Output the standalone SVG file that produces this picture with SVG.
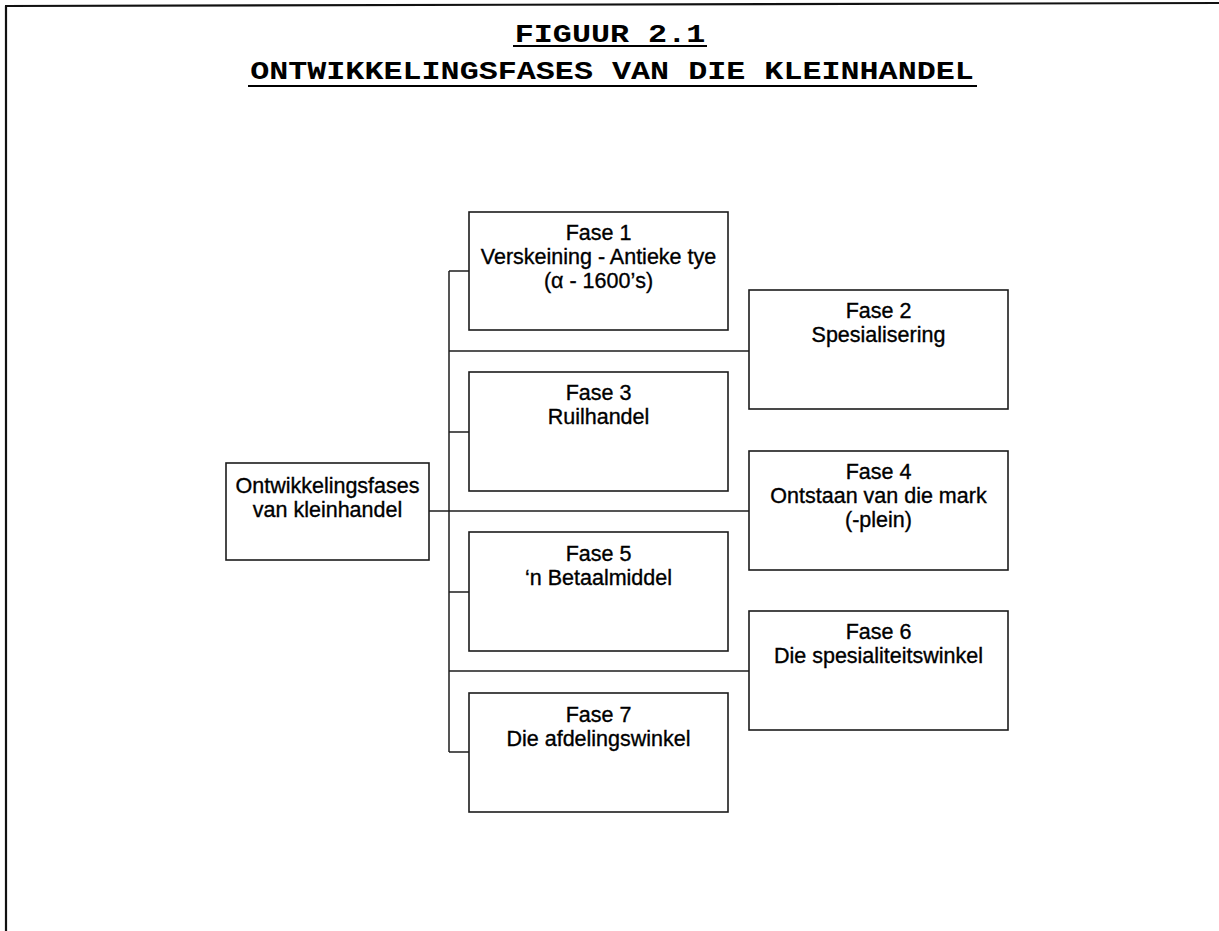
<svg xmlns="http://www.w3.org/2000/svg" width="1219" height="931" viewBox="0 0 1219 931">
  <style>
    .frame { stroke: #111; stroke-width: 2.2; fill: none; }
    .box { fill: #fff; stroke: #1c1c1c; stroke-width: 1.6; }
    .wire { stroke: #1c1c1c; stroke-width: 1.5; fill: none; }
    .title { font-family: "Liberation Mono", "Courier New", monospace; font-weight: bold; font-size: 25px; fill: #000; text-anchor: middle; }
    .rule { stroke: #000; stroke-width: 2; }
    .lbl { font-family: "Liberation Sans", Arial, sans-serif; font-size: 21.5px; fill: #000; stroke: #000; stroke-width: 0.35; text-anchor: middle; }
  </style>
  <rect width="1219" height="931" fill="#fff"/>

  <!-- page frame: left and top edges only -->
  <line class="frame" x1="6" y1="6" x2="6" y2="931"/>
  <line class="frame" x1="5" y1="6" x2="1219" y2="3"/>

  <!-- heading, typewriter face widened horizontally -->
  <g id="heading">
    <text class="title" transform="translate(610 42) scale(1.27 1)">FIGUUR 2.1</text>
    <line class="rule" x1="513" y1="46" x2="707" y2="46"/>
    <text class="title" transform="translate(612 79) scale(1.27 1)">ONTWIKKELINGSFASES VAN DIE KLEINHANDEL</text>
    <line class="rule" x1="248" y1="86" x2="977" y2="86"/>
  </g>

  <!-- connectors -->
  <g id="connectors">
    <line class="wire" x1="449" y1="271" x2="449" y2="752"/>
    <line class="wire" x1="449" y1="271" x2="469" y2="271"/>
    <line class="wire" x1="449" y1="432" x2="469" y2="432"/>
    <line class="wire" x1="449" y1="592" x2="469" y2="592"/>
    <line class="wire" x1="449" y1="752" x2="469" y2="752"/>
    <line class="wire" x1="449" y1="351" x2="749" y2="351"/>
    <line class="wire" x1="429" y1="511" x2="749" y2="511"/>
    <line class="wire" x1="449" y1="671" x2="749" y2="671"/>
  </g>

  <g id="root">
    <rect class="box" x="226" y="463" width="203" height="97"/>
    <text class="lbl" x="327.5" y="493">Ontwikkelingsfases</text>
    <text class="lbl" x="327.5" y="517">van kleinhandel</text>
  </g>

  <g id="fase1">
    <rect class="box" x="469" y="212" width="259" height="118"/>
    <text class="lbl" x="598.5" y="240">Fase 1</text>
    <text class="lbl" x="598.5" y="264">Verskeining - Antieke tye</text>
    <text class="lbl" x="598.5" y="288">(α - 1600’s)</text>
  </g>

  <g id="fase2">
    <rect class="box" x="749" y="290" width="259" height="119"/>
    <text class="lbl" x="878.5" y="318">Fase 2</text>
    <text class="lbl" x="878.5" y="342">Spesialisering</text>
  </g>

  <g id="fase3">
    <rect class="box" x="469" y="372" width="259" height="119"/>
    <text class="lbl" x="598.5" y="400">Fase 3</text>
    <text class="lbl" x="598.5" y="424">Ruilhandel</text>
  </g>

  <g id="fase4">
    <rect class="box" x="749" y="451" width="259" height="119"/>
    <text class="lbl" x="878.5" y="479">Fase 4</text>
    <text class="lbl" x="878.5" y="503">Ontstaan van die mark</text>
    <text class="lbl" x="878.5" y="527">(-plein)</text>
  </g>

  <g id="fase5">
    <rect class="box" x="469" y="532" width="259" height="119"/>
    <text class="lbl" x="598.5" y="561">Fase 5</text>
    <text class="lbl" x="598.5" y="585">‘n Betaalmiddel</text>
  </g>

  <g id="fase6">
    <rect class="box" x="749" y="611" width="259" height="119"/>
    <text class="lbl" x="878.5" y="639">Fase 6</text>
    <text class="lbl" x="878.5" y="663">Die spesialiteitswinkel</text>
  </g>

  <g id="fase7">
    <rect class="box" x="469" y="693" width="259" height="119"/>
    <text class="lbl" x="598.5" y="722">Fase 7</text>
    <text class="lbl" x="598.5" y="746">Die afdelingswinkel</text>
  </g>
</svg>
